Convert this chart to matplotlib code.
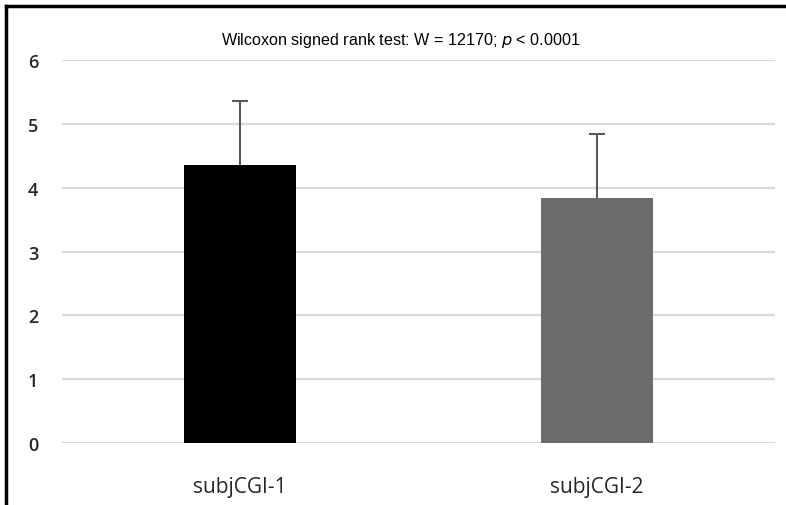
import matplotlib
matplotlib.use("Agg")
import matplotlib.pyplot as plt
from matplotlib.lines import Line2D

# data
groups = ["subjCGI-1", "subjCGI-2"]
means = [4.36, 3.84]
sds = [1.0, 1.0]
bar_colors = ["#000000", "#6b6b6b"]
yticks = [0, 1, 2, 3, 4, 5, 6]

plt.rcParams['font.family'] = ['Open Sans', 'DejaVu Sans']

fig = plt.figure(figsize=(7.86, 5.06), dpi=100)
ax = fig.add_axes([62/786, (506-444)/506, (775-62)/786, (444-61)/506])

x = range(len(groups))
ax.bar(x, means, width=0.314, color=bar_colors, zorder=3)
_, caps, _ = ax.errorbar(x, means, yerr=[[0, 0], sds], fmt="none", ecolor="#595959",
                         elinewidth=1.5, capsize=5.5, capthick=1.5, zorder=4)
caps[0].set_visible(False)  # only the upper cap is drawn

ax.set_xlim(-0.5, 1.5)
ax.set_ylim(0, 6)
ax.set_yticks(yticks)
ax.set_yticklabels([str(v) for v in yticks], fontsize=13, color="#262626", fontweight="semibold")
ax.set_xticks(list(x))
ax.set_xticklabels(groups, fontsize=15, color="#262626")
ax.tick_params(axis="y", length=0, pad=17)
ax.tick_params(axis="x", length=0, pad=24)
ax.yaxis.grid(True, color="#d9d9d9", lw=1.6, zorder=0)
for s in ax.spines.values():
    s.set_visible(False)

fig.text(401/786, (506-40)/506, "Wilcoxon signed rank test: W = 12170; $\\it{p}$ < 0.0001",
         ha="center", va="center", fontsize=11.6, family=["Liberation Sans", "DejaVu Sans"])

# black frame on left and top
fig.add_artist(Line2D([6/786, 6/786], [0, 1 - 7/506], color="black", lw=2.5,
                      transform=fig.transFigure))
fig.add_artist(Line2D([6/786, 1], [1 - 7/506, 1 - 7/506], color="black", lw=2.5,
                      transform=fig.transFigure))

fig.savefig("out.png", dpi=100)
